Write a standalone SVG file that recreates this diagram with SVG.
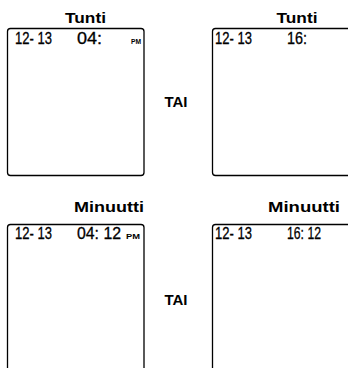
<svg xmlns="http://www.w3.org/2000/svg" width="348" height="368" viewBox="0 0 348 368">
<style>
.bg{fill:#fff}
.box{fill:#fff;stroke:#000;stroke-width:1.3}
.title{font-family:"Liberation Sans",Arial,sans-serif;font-weight:bold;font-size:15.5px;fill:#000}
.tai{font-family:"Liberation Sans",Arial,sans-serif;font-weight:bold;font-size:15px;fill:#000}
.lcd{font-family:"Liberation Sans",Arial,sans-serif;font-size:17px;fill:#000;stroke:#000;stroke-width:0.3}
.pm{font-family:"Liberation Sans",Arial,sans-serif;font-weight:bold;font-size:7.5px;fill:#000}
</style>
<rect class="bg" x="0" y="0" width="348" height="368"/>
<g id="tunti-12h">
<text class="title" x="85.5" y="23" text-anchor="middle" textLength="41" lengthAdjust="spacingAndGlyphs">Tunti</text>
<rect class="box" x="7.5" y="28.5" width="136.5" height="147" rx="3"/>
<text class="lcd" x="15" y="44" textLength="37" lengthAdjust="spacingAndGlyphs">12- 13</text>
<text class="lcd" x="77" y="44" textLength="25" lengthAdjust="spacingAndGlyphs">04:</text>
<text class="pm" x="131" y="44" textLength="10" lengthAdjust="spacingAndGlyphs">PM</text>
</g>
<g id="tai-1">
<text class="tai" x="176" y="107" text-anchor="middle">TAI</text>
</g>
<g id="tunti-24h">
<text class="title" x="297" y="23" text-anchor="middle" textLength="41" lengthAdjust="spacingAndGlyphs">Tunti</text>
<rect class="box" x="212.5" y="28.5" width="150" height="147" rx="3"/>
<text class="lcd" x="215" y="44" textLength="37" lengthAdjust="spacingAndGlyphs">12- 13</text>
<text class="lcd" x="287" y="44" textLength="20" lengthAdjust="spacingAndGlyphs">16:</text>
</g>
<g id="minuutti-12h">
<text class="title" x="109" y="212" text-anchor="middle" textLength="70" lengthAdjust="spacingAndGlyphs">Minuutti</text>
<rect class="box" x="7.5" y="224.5" width="136.5" height="160" rx="3"/>
<text class="lcd" x="15" y="239" textLength="37" lengthAdjust="spacingAndGlyphs">12- 13</text>
<text class="lcd" x="77" y="239" textLength="44" lengthAdjust="spacingAndGlyphs">04: 12</text>
<text class="pm" x="126" y="239" textLength="14" lengthAdjust="spacingAndGlyphs">PM</text>
</g>
<g id="tai-2">
<text class="tai" x="176" y="305" text-anchor="middle">TAI</text>
</g>
<g id="minuutti-24h">
<text class="title" x="304" y="212" text-anchor="middle" textLength="72" lengthAdjust="spacingAndGlyphs">Minuutti</text>
<rect class="box" x="212.5" y="224.5" width="150" height="160" rx="3"/>
<text class="lcd" x="215" y="239" textLength="37" lengthAdjust="spacingAndGlyphs">12- 13</text>
<text class="lcd" x="287" y="239" textLength="34" lengthAdjust="spacingAndGlyphs">16: 12</text>
</g>
<g id="connectors"></g>
</svg>
